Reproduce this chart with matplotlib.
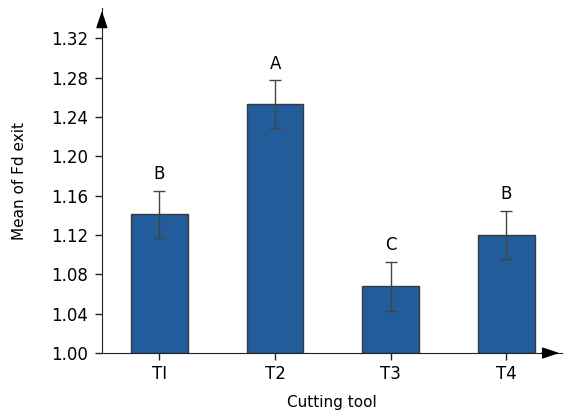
import matplotlib
matplotlib.use("Agg")
import matplotlib.pyplot as plt

tools = ["TI", "T2", "T3", "T4"]
means = [1.141, 1.253, 1.068, 1.120]
errors = [0.024, 0.024, 0.025, 0.024]
groups = ["B", "A", "C", "B"]
y_ticks = [1.00, 1.04, 1.08, 1.12, 1.16, 1.20, 1.24, 1.28, 1.32]

plt.rcParams["font.family"] = ["DejaVu Sans"]

fig = plt.figure(figsize=(5.66, 4.16), dpi=100)
ax = fig.add_axes([0.180, 0.1514, 0.813, 0.829])

x = list(range(len(tools)))
base = 1.0
ax.bar(x, [m - base for m in means], bottom=base, width=0.49,
       color="#225c9b", edgecolor="#3a3a3a", linewidth=1.0, zorder=2)
ax.errorbar(x, means, yerr=errors, fmt="none", ecolor="#444444",
            elinewidth=1.0, capsize=4.5, capthick=1.0, zorder=3)

for xi, m, e, g in zip(x, means, errors, groups):
    ax.text(xi, m + e + 0.008, g, ha="center", va="bottom", fontsize=12)

ax.set_xlim(-0.497, 3.48)
ax.set_ylim(1.0, 1.3505)
ax.set_yticks(y_ticks)
ax.set_yticklabels([f"{v:.2f}" for v in y_ticks], fontsize=12)
ax.set_xticks(x)
ax.set_xticklabels(tools, fontsize=12)
ax.tick_params(axis="both", direction="out", length=5, width=1, color="#222222")
ax.tick_params(axis="y", pad=5)

ax.spines["top"].set_visible(False)
ax.spines["right"].set_visible(False)
ax.spines["left"].set_color("#222222")
ax.spines["bottom"].set_color("#222222")

# arrow heads at the ends of the axes
arrow = dict(arrowstyle="-|>,head_length=0.65,head_width=0.22", color="black",
             lw=1, mutation_scale=16)
ax.annotate("", xy=(1.0, 0), xytext=(0.95, 0), xycoords="axes fraction",
            arrowprops=arrow, annotation_clip=False)
ax.annotate("", xy=(0, 1.0), xytext=(0, 0.95), xycoords="axes fraction",
            arrowprops=arrow, annotation_clip=False)

ax.set_ylabel("Mean of Fd exit", fontsize=11, labelpad=17)
ax.set_xlabel("Cutting tool", fontsize=11, labelpad=9)

fig.savefig("out.png", dpi=100)
